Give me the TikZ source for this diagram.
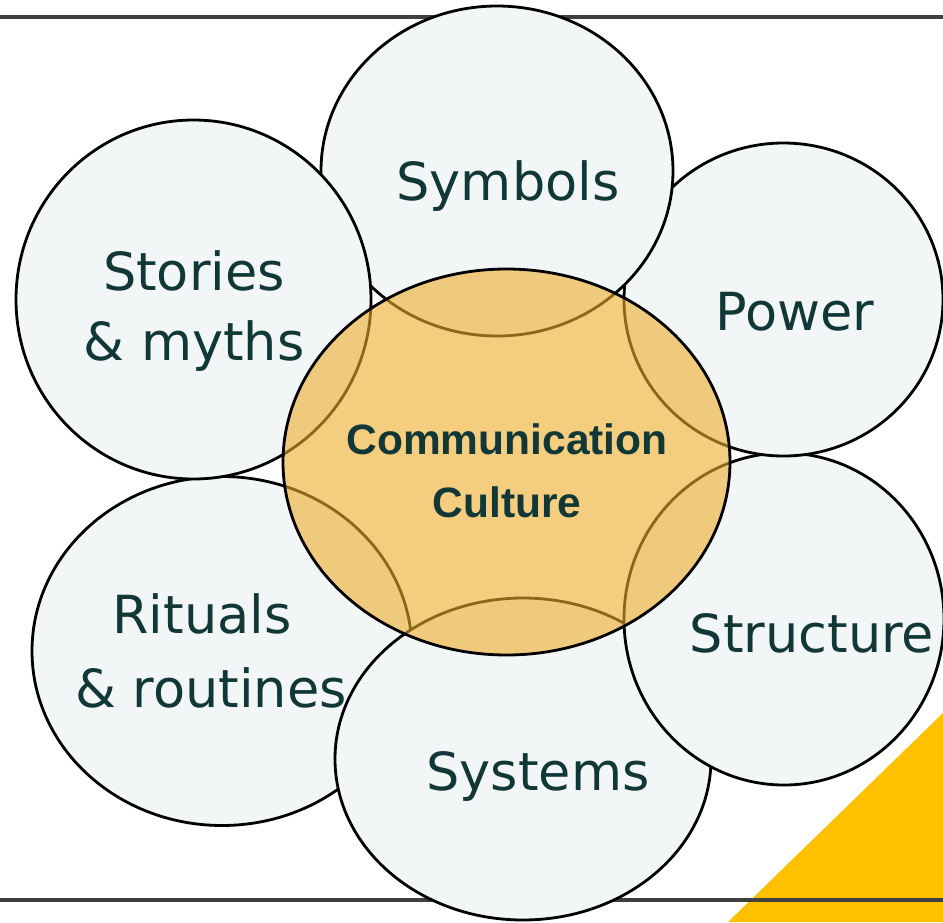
\documentclass[tikz,border=0pt]{standalone}
\usepackage{fontspec}
\setmainfont{DejaVu Sans}
\newfontfamily\ctrfont{Liberation Sans}
\usetikzlibrary{shapes.geometric}
\definecolor{txt}{RGB}{17,55,55}
\definecolor{petalfill}{RGB}{242,246,247}
\definecolor{corefill}{RGB}{237,171,42}
\definecolor{rulecol}{RGB}{64,64,64}
\definecolor{tricol}{RGB}{255,192,0}
\tikzset{
  petal/.style={ellipse, draw=black, line width=2.8pt, fill=petalfill, inner sep=0pt},
  core/.style={ellipse, draw=black, line width=2.8pt, fill=corefill, fill opacity=0.6, inner sep=0pt},
  lbl/.style={text=txt, font=\fontsize{52.5}{70}\selectfont, anchor=base, inner sep=0pt},
  corelbl/.style={text=txt, font=\ctrfont\bfseries\fontsize{42.5}{63}\selectfont, anchor=base, inner sep=0pt},
  rulebar/.style={draw=rulecol, line width=3.6pt}
}
\begin{document}
\begin{tikzpicture}[x=1pt,y=-1pt]
\useasboundingbox (0,0) rectangle (943,922);
% decorative triangle
\fill[tricol] (943,713) -- (943,922) -- (728,922) -- cycle;
% rules
\coordinate (tl) at (0,17);
\coordinate (tr) at (943,17);
\coordinate (bl) at (0,900);
\coordinate (br) at (943,900);
\draw[rulebar] (tl) -- (tr);
\draw[rulebar] (bl) -- (br);
% petals
\node[petal, minimum width=380pt, minimum height=349pt] (rituals) at (222,651) {};
\node[petal, minimum width=376pt, minimum height=322pt] (systems) at (523,759) {};
\node[petal, minimum width=320pt, minimum height=332pt] (structure) at (784,619) {};
\node[petal, minimum width=319pt, minimum height=313pt] (power) at (783.5,299.5) {};
\node[petal, minimum width=352pt, minimum height=330pt] (symbols) at (497,171) {};
\node[petal, minimum width=355pt, minimum height=359pt] (stories) at (193.5,299.5) {};
% core
\node[core, minimum width=447pt, minimum height=386pt] (center) at (506.5,462) {};
% labels
\node[lbl] (symbolsT) at (508,200) {Symbols};
\node[lbl] (storiesA) at (194,290) {Stories};
\node[lbl] (storiesB) at (194,360) {\& myths};
\node[lbl] (powerT) at (795,330) {Power};
\node[lbl] (structureT) at (812,652) {Structure};
\node[lbl] (systemsT) at (538,790) {Systems};
\node[lbl] (ritualsA) at (202,633) {Rituals};
\node[lbl] (ritualsB) at (211,707) {\& routines};
\node[corelbl] (coreA) at (507,454) {Communication};
\node[corelbl] (coreB) at (507,517) {Culture};
\end{tikzpicture}
\end{document}
